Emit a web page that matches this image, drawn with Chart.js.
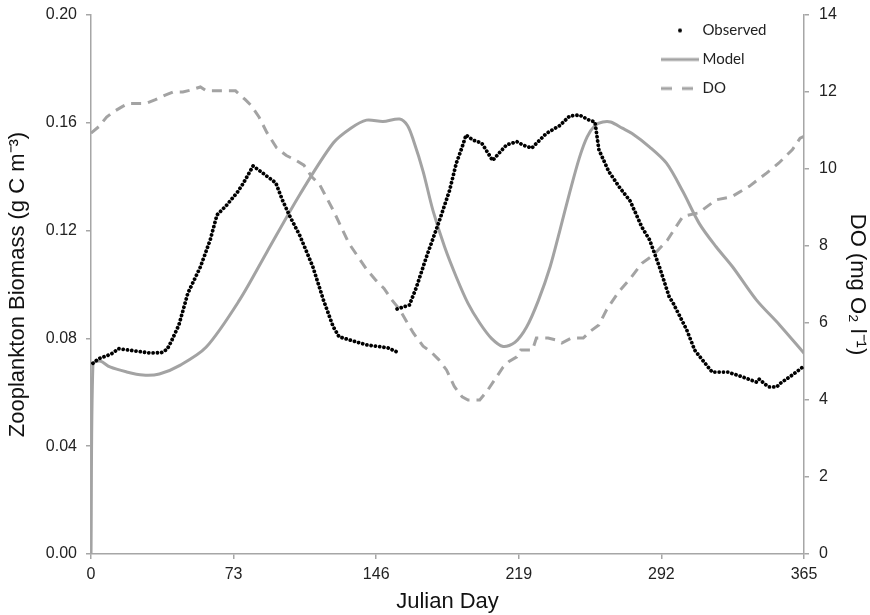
<!DOCTYPE html>
<html>
<head>
<meta charset="utf-8">
<script src="https://cdn.jsdelivr.net/npm/chart.js@4"></script>
<style>
  body { margin: 0; background: #fff; }
  #wrap { width: 870px; height: 615px; position: relative; }
</style>
</head>
<body>
<div id="wrap"><canvas id="chart"></canvas></div>
<script>
// Observed zooplankton biomass (g C m-3), null = gap in the record
const obsDays = [1, 4, 8, 11, 14, 18, 24, 30, 36, 39, 41, 45, 49.6, 56, 61, 64.5, 69.5, 75, 78, 83, 88, 94.6, 98, 102, 107, 113.6, 119, 124, 127, 132.5, 141, 152, 156.5,
  156.6,
  156.7, 163, 166.6, 171.6, 178.5, 183.6, 187, 190, 192, 195.5, 200, 205.6, 209, 212.7, 218, 221, 225.6, 233, 240, 245, 250, 255, 258, 260, 265, 270.6, 276, 282, 286, 291, 296, 298, 305, 309, 313, 318, 326, 333.5, 340.6, 342, 345.6, 347, 351, 353, 359, 365];
const obsValues = [0.0708, 0.0725, 0.0735, 0.0745, 0.0762, 0.0758, 0.0752, 0.0746, 0.0747, 0.0760, 0.0787, 0.085, 0.0968, 0.1065, 0.1165, 0.1258, 0.1295, 0.1343, 0.1376, 0.1440, 0.1413, 0.1377, 0.1313, 0.125, 0.1180, 0.1065, 0.0942, 0.0843, 0.0806, 0.0794, 0.0776, 0.0765, 0.0750,
  null,
  0.0909, 0.0924, 0.0990, 0.1100, 0.1240, 0.1350, 0.1450, 0.1510, 0.1555, 0.1536, 0.1525, 0.1460, 0.1488, 0.1518, 0.1530, 0.1518, 0.1506, 0.1560, 0.1590, 0.1625, 0.1629, 0.1610, 0.1603, 0.1500, 0.1420, 0.1360, 0.1310, 0.1213, 0.1165, 0.1065, 0.0954, 0.0931, 0.0831, 0.0757, 0.0720, 0.0675, 0.0675, 0.0657, 0.0638, 0.0649, 0.0627, 0.0620, 0.0620, 0.0634, 0.0664, 0.0697];

// Model zooplankton biomass (g C m-3)
const modelDays = [0, 1, 4.6, 9.7, 18, 26.6, 35, 45.5, 59, 76, 90, 107, 124, 133, 141, 149.5, 158, 162, 165, 170, 175, 181, 187, 193, 199, 205, 211, 217, 223, 229, 235, 240, 245, 250, 254, 258, 262, 266, 272, 277, 286, 294.6, 303, 311.5, 320, 328.5, 340.6, 352.5, 365];
const modelValues = [0, 0.0705, 0.0716, 0.0694, 0.0676, 0.0664, 0.0668, 0.0700, 0.0768, 0.0942, 0.1120, 0.1335, 0.1525, 0.1580, 0.1610, 0.1605, 0.1614, 0.1590, 0.1536, 0.1420, 0.1276, 0.1140, 0.1028, 0.0930, 0.0857, 0.0800, 0.0770, 0.0785, 0.0842, 0.0940, 0.1065, 0.1200, 0.1340, 0.1470, 0.1548, 0.1590, 0.1603, 0.1603, 0.1580, 0.1560, 0.1510, 0.1450, 0.1345, 0.1225, 0.1140, 0.1065, 0.0943, 0.0850, 0.0745];

// Dissolved oxygen (mg O2 l-1), right axis
const doDays = [0, 4, 8, 12, 16, 19, 28, 33, 38, 42, 47, 51, 56, 59, 74, 79, 82, 86, 90, 95, 100, 104, 109, 113, 117, 124, 132, 141, 146, 150, 154, 158, 165, 170, 174, 178, 182, 186, 190, 193, 199, 203, 207, 211, 214, 218, 220, 226, 228, 234, 238, 241, 246, 252, 256, 260, 264, 270, 276, 282, 288, 295, 303, 311, 320, 328, 337, 346, 352, 359, 363, 365];
const doValues = [10.93, 11.1, 11.35, 11.5, 11.62, 11.7, 11.7, 11.8, 11.92, 12.0, 12.0, 12.05, 12.13, 12.03, 12.03, 11.8, 11.65, 11.35, 10.95, 10.55, 10.35, 10.25, 10.1, 9.8, 9.6, 8.93, 8.07, 7.4, 7.1, 6.9, 6.6, 6.35, 5.74, 5.4, 5.25, 5.05, 4.78, 4.35, 4.08, 4.0, 4.0, 4.25, 4.55, 4.86, 5.0, 5.12, 5.3, 5.3, 5.61, 5.61, 5.56, 5.48, 5.61, 5.61, 5.8, 5.95, 6.35, 6.8, 7.15, 7.55, 7.77, 8.15, 8.77, 8.86, 9.2, 9.28, 9.55, 9.9, 10.15, 10.5, 10.8, 10.85];

const xTicks = [0, 73, 146, 219, 292, 365];

const toPoints = (xs, ys) => xs.map((x, i) => ({ x: x, y: ys[i] }));

const GREY = "#a3a3a3";
const AXIS = "#a6a6a6";
const TEXT = "#222";

// small canvases used as legend symbols
function legendSymbol(kind) {
  const c = document.createElement("canvas");
  c.width = 38;
  c.height = 10;
  const g = c.getContext("2d");
  if (kind === "dot") {
    g.fillStyle = "#000";
    g.beginPath();
    g.arc(19, 5, 2, 0, Math.PI * 2);
    g.fill();
  } else {
    g.strokeStyle = GREY;
    g.lineWidth = 3;
    if (kind === "dash") g.setLineDash([11, 10]);
    g.beginPath();
    g.moveTo(0, 5);
    g.lineTo(38, 5);
    g.stroke();
  }
  return c;
}
const symbols = [legendSymbol("dot"), legendSymbol("line"), legendSymbol("dash")];

// put the legend inside the plot, top right
const legendPlacer = {
  id: "legendPlacer",
  afterLayout(chart) {
    const lg = chart.legend;
    const area = chart.chartArea;
    lg.left = area.right - 153;
    lg.right = lg.left + lg.width;
    lg.top = area.top - 6;
    lg.bottom = area.bottom;
  },
};

// fixed axis sizes, no extra room reserved for end labels
const fixWidth = (w) => (s) => {
  s.width = w;
  s.paddingTop = 0;
  s.paddingBottom = 0;
};

const ctx = document.getElementById("chart").getContext("2d");
new Chart(ctx, {
  type: "line",
  data: {
    datasets: [
      {
        label: "Observed",
        data: toPoints(obsDays, obsValues),
        yAxisID: "y",
        borderColor: "#000",
        borderWidth: 3.8,
        borderDash: [0.01, 4.3],
        borderCapStyle: "round",
        pointRadius: 0,
        spanGaps: false,
        tension: 0,
      },
      {
        label: "Model",
        data: toPoints(modelDays, modelValues),
        yAxisID: "y",
        borderColor: GREY,
        borderWidth: 3,
        pointRadius: 0,
        tension: 0.3,
      },
      {
        label: "DO",
        data: toPoints(doDays, doValues),
        yAxisID: "y1",
        borderColor: GREY,
        borderWidth: 3,
        borderDash: [10, 7],
        pointRadius: 0,
        tension: 0,
      },
    ],
  },
  options: {
    responsive: true,
    maintainAspectRatio: false,
    animation: false,
    layout: { padding: { top: 15, left: 0, right: 0, bottom: 0 } },
    plugins: {
      tooltip: { enabled: false },
      legend: {
        position: "chartArea",
        align: "start",
        labels: {
          usePointStyle: true,
          pointStyleWidth: 30,
          padding: 14,
          color: TEXT,
          font: { family: "Lato", size: 15 },
          generateLabels: (chart) =>
            chart.data.datasets.map((ds, i) => ({
              text: ds.label,
              pointStyle: symbols[i],
              datasetIndex: i,
              fontColor: TEXT,
              fillStyle: "transparent",
              strokeStyle: "transparent",
              lineWidth: 0,
              hidden: false,
            })),
        },
      },
    },
    scales: {
      x: {
        type: "linear",
        min: 0,
        max: 365,
        afterBuildTicks: (s) => { s.ticks = xTicks.map((v) => ({ value: v })); },
        afterFit: (s) => { s.height = 61; },
        ticks: { color: TEXT, padding: 6, font: { family: "Liberation Sans", size: 16 } },
        grid: { drawOnChartArea: false, drawTicks: true, tickLength: 5, color: AXIS, lineWidth: 1.5 },
        border: { color: AXIS, width: 1.5 },
        title: {
          display: true,
          text: "Julian Day",
          color: "#111",
          padding: { top: 0, bottom: 0 },
          font: { family: "Liberation Sans", size: 22 },
        },
      },
      y: {
        position: "left",
        min: 0,
        max: 0.2,
        afterFit: fixWidth(91),
        ticks: {
          stepSize: 0.04,
          color: TEXT,
          padding: 9,
          font: { family: "Liberation Sans", size: 16 },
          callback: (v) => v.toFixed(2),
        },
        grid: { drawOnChartArea: false, drawTicks: true, tickLength: 5, color: AXIS, lineWidth: 1.5 },
        border: { color: AXIS, width: 1.5 },
        title: {
          display: true,
          text: "Zooplankton Biomass (g C m\u207B\u00B3)",
          color: "#111",
          padding: { top: 5, bottom: 0 },
          font: { family: "Liberation Sans", size: 22 },
        },
      },
      y1: {
        position: "right",
        min: 0,
        max: 14,
        afterFit: fixWidth(66),
        ticks: { stepSize: 2, color: TEXT, padding: 10, font: { family: "Liberation Sans", size: 16 } },
        grid: { drawOnChartArea: false, drawTicks: true, tickLength: 5, color: AXIS, lineWidth: 1.5 },
        border: { color: AXIS, width: 1.5 },
        title: {
          display: true,
          text: "DO (mg O\u2082 l\u207B\u00B9)",
          color: "#111",
          padding: { top: 0, bottom: 0 },
          font: { family: "Liberation Sans", size: 22 },
        },
      },
    },
  },
  plugins: [legendPlacer],
});
</script>
</body>
</html>
